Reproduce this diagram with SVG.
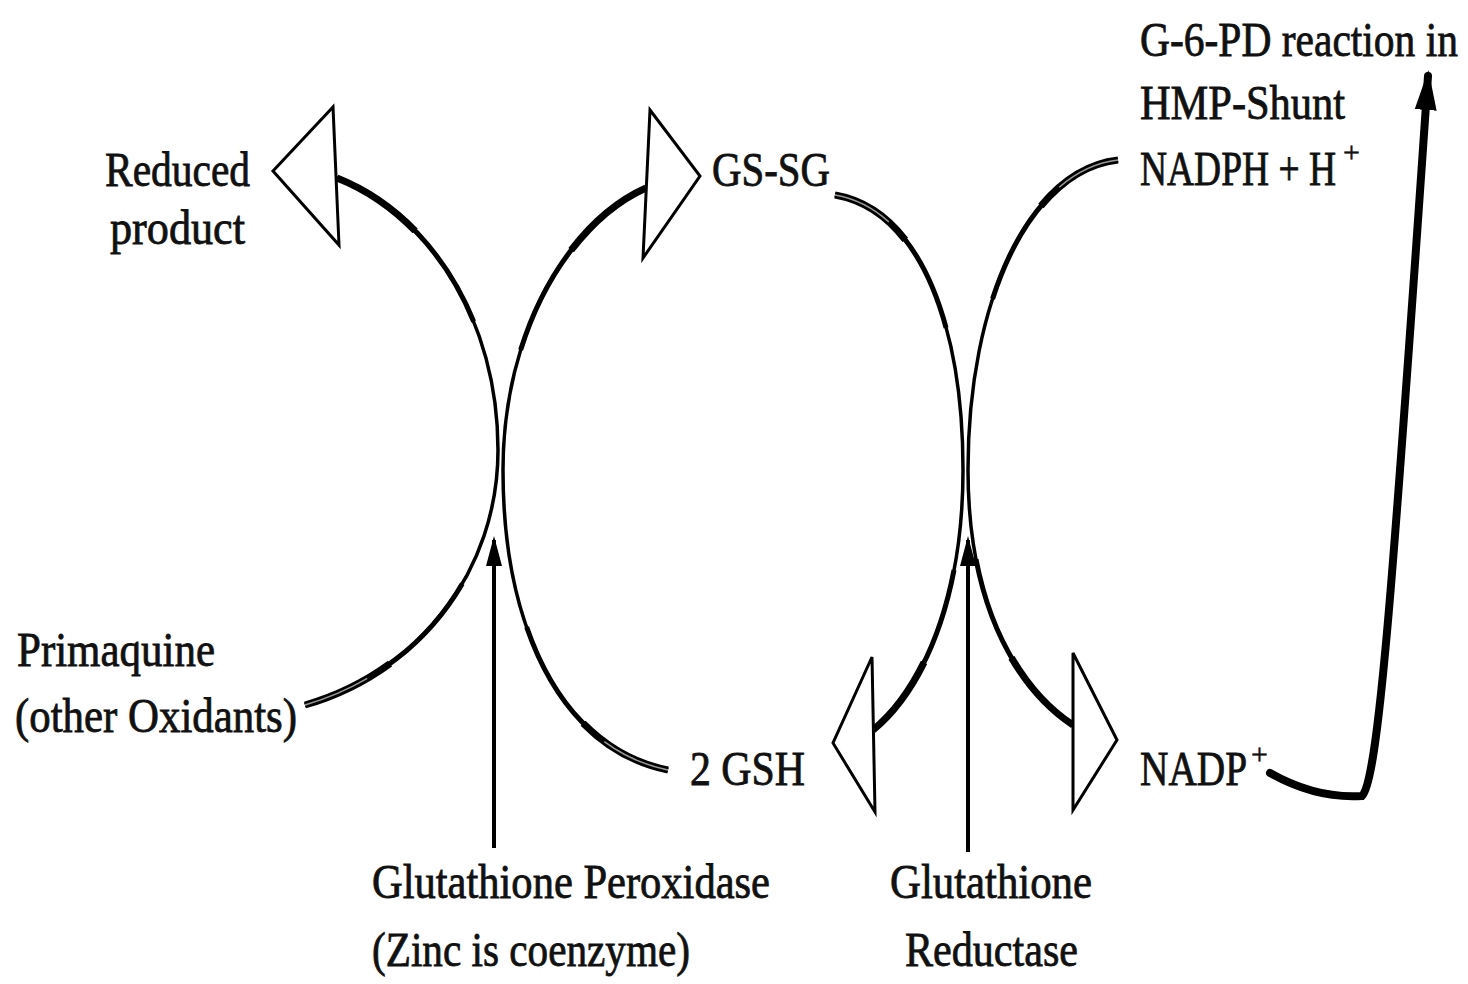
<svg xmlns="http://www.w3.org/2000/svg" width="1468" height="984" viewBox="0 0 1468 984">
<style>
text{font-family:"Liberation Serif","Times New Roman",serif;font-size:48px;fill:#111;stroke:#111;stroke-width:0.8}
.sup{font-size:30px;stroke-width:0.5}
.curve{fill:none;stroke:#000;stroke-width:3.5}
.mid{fill:none;stroke:#000;stroke-width:5;stroke-dasharray:30 40 30}
.thick{fill:none;stroke:#000;stroke-width:7;stroke-dasharray:14 72 14}
.inner{fill:none;stroke:#999;stroke-width:1.5;stroke-dasharray:10 90}
.open{fill:#fff;stroke:#000;stroke-width:3;stroke-linejoin:miter}
.vline{fill:none;stroke:#000;stroke-width:4}
</style>
<defs>
<marker id="solid" viewBox="0 0 30 20" refX="26" refY="10" markerWidth="30" markerHeight="20" markerUnits="userSpaceOnUse" orient="auto">
<path d="M0,2 L30,10 L0,18 Z" fill="#000"/>
</marker>
<marker id="big" viewBox="0 0 40 24" refX="34" refY="12" markerWidth="40" markerHeight="24" markerUnits="userSpaceOnUse" orient="auto">
<path d="M0,1 L40,12 L0,23 Z" fill="#000"/>
</marker>
</defs>
<rect width="1468" height="984" fill="#fff"/>

<g id="connectors">
<!-- Primaquine -> Reduced product -->
<path class="curve" d="M305,705 C420,672 498,570 498,450 C498,320 430,215 337,178"/>
<path class="mid" pathLength="100" d="M305,705 C420,672 498,570 498,450 C498,320 430,215 337,178"/>
<path class="thick" pathLength="100" d="M305,705 C420,672 498,570 498,450 C498,320 430,215 337,178"/>
<path class="inner" pathLength="100" d="M305,705 C420,672 498,570 498,450 C498,320 430,215 337,178"/>
<!-- 2 GSH -> GS-SG -->
<path class="curve" d="M668,770 C560,748 503,625 503,470 C503,330 570,222 646,188"/>
<path class="mid" pathLength="100" d="M668,770 C560,748 503,625 503,470 C503,330 570,222 646,188"/>
<path class="thick" pathLength="100" d="M668,770 C560,748 503,625 503,470 C503,330 570,222 646,188"/>
<path class="inner" pathLength="100" d="M668,770 C560,748 503,625 503,470 C503,330 570,222 646,188"/>
<!-- GS-SG -> 2 GSH -->
<path class="curve" d="M835,195 C922,210 963,330 963,470 C963,600 922,690 873,730"/>
<path class="mid" pathLength="100" d="M835,195 C922,210 963,330 963,470 C963,600 922,690 873,730"/>
<path class="thick" pathLength="100" d="M835,195 C922,210 963,330 963,470 C963,600 922,690 873,730"/>
<path class="inner" pathLength="100" d="M835,195 C922,210 963,330 963,470 C963,600 922,690 873,730"/>
<!-- NADPH -> NADP+ -->
<path class="curve" d="M1118,160 C1030,170 968,300 968,470 C968,610 1020,690 1073,725"/>
<path class="mid" pathLength="100" d="M1118,160 C1030,170 968,300 968,470 C968,610 1020,690 1073,725"/>
<path class="thick" pathLength="100" d="M1118,160 C1030,170 968,300 968,470 C968,610 1020,690 1073,725"/>
<path class="inner" pathLength="100" d="M1118,160 C1030,170 968,300 968,470 C968,610 1020,690 1073,725"/>
<!-- enzyme arrows -->
<line class="vline" x1="494" y1="848" x2="494" y2="540" marker-end="url(#solid)"/>
<line class="vline" x1="968" y1="852" x2="968" y2="540" marker-end="url(#solid)"/>
<!-- NADP+ -> G-6-PD (HMP shunt) -->
<path d="M1270,773 C1300,790 1330,798 1362,796 C1378,780 1392,600 1428,76" fill="none" stroke="#000" stroke-width="8" stroke-linecap="round" marker-end="url(#big)"/>
</g>

<g id="arrowheads">
<polygon class="open" points="333,107 273,171 339,245"/>
<polygon class="open" points="650,110 700,176 643,258"/>
<polygon class="open" points="872,657 833,743 875,812"/>
<polygon class="open" points="1073,653 1117,740 1073,810"/>
</g>

<g id="reduced-product"><text x="105" y="186" textLength="145" lengthAdjust="spacingAndGlyphs">Reduced</text><text x="110" y="244" textLength="135" lengthAdjust="spacingAndGlyphs">product</text></g>
<g id="gssg"><text x="712" y="186" textLength="118" lengthAdjust="spacingAndGlyphs">GS-SG</text></g>
<g id="g6pd"><text x="1140" y="56" textLength="318" lengthAdjust="spacingAndGlyphs">G-6-PD reaction in</text><text x="1140" y="119" textLength="205" lengthAdjust="spacingAndGlyphs">HMP-Shunt</text><text x="1140" y="185" textLength="196" lengthAdjust="spacingAndGlyphs">NADPH + H</text><text class="sup" x="1343" y="162">+</text></g>
<g id="primaquine"><text x="17" y="666" textLength="198" lengthAdjust="spacingAndGlyphs">Primaquine</text><text x="15" y="732" textLength="282" lengthAdjust="spacingAndGlyphs">(other Oxidants)</text></g>
<g id="gsh"><text x="690" y="785" textLength="115" lengthAdjust="spacingAndGlyphs">2 GSH</text></g>
<g id="nadp"><text x="1140" y="785" textLength="107" lengthAdjust="spacingAndGlyphs">NADP</text><text class="sup" x="1251" y="764">+</text></g>
<g id="peroxidase"><text x="372" y="898" textLength="398" lengthAdjust="spacingAndGlyphs">Glutathione Peroxidase</text><text x="372" y="966" textLength="318" lengthAdjust="spacingAndGlyphs">(Zinc is coenzyme)</text></g>
<g id="reductase"><text x="890" y="898" textLength="202" lengthAdjust="spacingAndGlyphs">Glutathione</text><text x="905" y="966" textLength="173" lengthAdjust="spacingAndGlyphs">Reductase</text></g>
</svg>
